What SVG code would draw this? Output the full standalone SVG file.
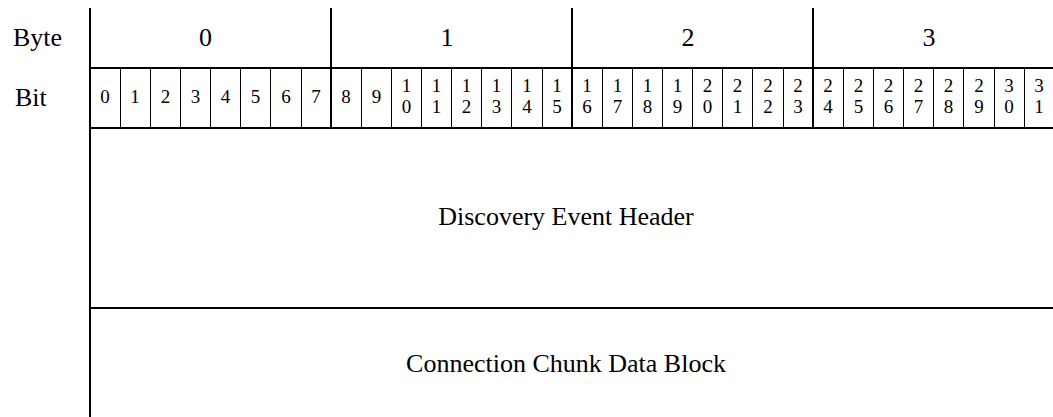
<svg xmlns="http://www.w3.org/2000/svg" width="1053" height="417" viewBox="0 0 1053 417">
<style>
.thick{stroke:#000;stroke-width:2;fill:none}
.thin{stroke:#000;stroke-width:1;fill:none}
.t{font-family:'Liberation Serif','Times New Roman',serif;fill:#000}
.lbl{font-size:26px}
.big{font-size:26px;text-anchor:middle}
.bit{font-size:19px;text-anchor:middle}
</style>
<rect width="1053" height="417" fill="#fff"/>
<g id="connectors">
<line class="thick" x1="90" y1="8" x2="90" y2="417"/>
<line class="thick" x1="331" y1="8" x2="331" y2="128"/>
<line class="thick" x1="572" y1="8" x2="572" y2="128"/>
<line class="thick" x1="813" y1="8" x2="813" y2="128"/>
<line class="thick" x1="90" y1="68" x2="1053" y2="68"/>
<line class="thick" x1="90" y1="128" x2="1053" y2="128"/>
<line class="thick" x1="90" y1="308" x2="1053" y2="308"/>
<g class="thin">
<line x1="120.5" y1="68" x2="120.5" y2="128"/>
<line x1="150.5" y1="68" x2="150.5" y2="128"/>
<line x1="180.5" y1="68" x2="180.5" y2="128"/>
<line x1="210.5" y1="68" x2="210.5" y2="128"/>
<line x1="240.5" y1="68" x2="240.5" y2="128"/>
<line x1="270.5" y1="68" x2="270.5" y2="128"/>
<line x1="301.5" y1="68" x2="301.5" y2="128"/>
<line x1="361.5" y1="68" x2="361.5" y2="128"/>
<line x1="391.5" y1="68" x2="391.5" y2="128"/>
<line x1="421.5" y1="68" x2="421.5" y2="128"/>
<line x1="451.5" y1="68" x2="451.5" y2="128"/>
<line x1="481.5" y1="68" x2="481.5" y2="128"/>
<line x1="511.5" y1="68" x2="511.5" y2="128"/>
<line x1="542.5" y1="68" x2="542.5" y2="128"/>
<line x1="602.5" y1="68" x2="602.5" y2="128"/>
<line x1="632.5" y1="68" x2="632.5" y2="128"/>
<line x1="662.5" y1="68" x2="662.5" y2="128"/>
<line x1="692.5" y1="68" x2="692.5" y2="128"/>
<line x1="722.5" y1="68" x2="722.5" y2="128"/>
<line x1="752.5" y1="68" x2="752.5" y2="128"/>
<line x1="783.5" y1="68" x2="783.5" y2="128"/>
<line x1="843.5" y1="68" x2="843.5" y2="128"/>
<line x1="873.5" y1="68" x2="873.5" y2="128"/>
<line x1="903.5" y1="68" x2="903.5" y2="128"/>
<line x1="933.5" y1="68" x2="933.5" y2="128"/>
<line x1="963.5" y1="68" x2="963.5" y2="128"/>
<line x1="994.5" y1="68" x2="994.5" y2="128"/>
<line x1="1024.5" y1="68" x2="1024.5" y2="128"/>
</g>
</g>
<g id="labels">
<text class="t lbl" x="13" y="46">Byte</text>
<text class="t lbl" x="15" y="106">Bit</text>
</g>
<g id="bytes">
<text class="t big" x="205.5" y="46">0</text>
<text class="t big" x="447" y="46">1</text>
<text class="t big" x="688" y="46">2</text>
<text class="t big" x="929" y="46">3</text>
</g>
<g id="bits">
<text class="t bit" x="105" y="103">0</text>
<text class="t bit" x="135" y="103">1</text>
<text class="t bit" x="165.5" y="103">2</text>
<text class="t bit" x="195.5" y="103">3</text>
<text class="t bit" x="225.5" y="103">4</text>
<text class="t bit" x="255.5" y="103">5</text>
<text class="t bit" x="286" y="103">6</text>
<text class="t bit" x="316" y="103">7</text>
<text class="t bit" x="346" y="103">8</text>
<text class="t bit" x="376.5" y="103">9</text>
<text class="t bit" x="406.5"><tspan x="406.5" y="92">1</tspan><tspan x="406.5" y="113">0</tspan></text>
<text class="t bit" x="436.5"><tspan x="436.5" y="92">1</tspan><tspan x="436.5" y="113">1</tspan></text>
<text class="t bit" x="466.5"><tspan x="466.5" y="92">1</tspan><tspan x="466.5" y="113">2</tspan></text>
<text class="t bit" x="496.5"><tspan x="496.5" y="92">1</tspan><tspan x="496.5" y="113">3</tspan></text>
<text class="t bit" x="527"><tspan x="527" y="92">1</tspan><tspan x="527" y="113">4</tspan></text>
<text class="t bit" x="557"><tspan x="557" y="92">1</tspan><tspan x="557" y="113">5</tspan></text>
<text class="t bit" x="587"><tspan x="587" y="92">1</tspan><tspan x="587" y="113">6</tspan></text>
<text class="t bit" x="617.5"><tspan x="617.5" y="92">1</tspan><tspan x="617.5" y="113">7</tspan></text>
<text class="t bit" x="647.5"><tspan x="647.5" y="92">1</tspan><tspan x="647.5" y="113">8</tspan></text>
<text class="t bit" x="677.5"><tspan x="677.5" y="92">1</tspan><tspan x="677.5" y="113">9</tspan></text>
<text class="t bit" x="707.5"><tspan x="707.5" y="92">2</tspan><tspan x="707.5" y="113">0</tspan></text>
<text class="t bit" x="737.5"><tspan x="737.5" y="92">2</tspan><tspan x="737.5" y="113">1</tspan></text>
<text class="t bit" x="768"><tspan x="768" y="92">2</tspan><tspan x="768" y="113">2</tspan></text>
<text class="t bit" x="798"><tspan x="798" y="92">2</tspan><tspan x="798" y="113">3</tspan></text>
<text class="t bit" x="828"><tspan x="828" y="92">2</tspan><tspan x="828" y="113">4</tspan></text>
<text class="t bit" x="858.5"><tspan x="858.5" y="92">2</tspan><tspan x="858.5" y="113">5</tspan></text>
<text class="t bit" x="888.5"><tspan x="888.5" y="92">2</tspan><tspan x="888.5" y="113">6</tspan></text>
<text class="t bit" x="918.5"><tspan x="918.5" y="92">2</tspan><tspan x="918.5" y="113">7</tspan></text>
<text class="t bit" x="948.5"><tspan x="948.5" y="92">2</tspan><tspan x="948.5" y="113">8</tspan></text>
<text class="t bit" x="979"><tspan x="979" y="92">2</tspan><tspan x="979" y="113">9</tspan></text>
<text class="t bit" x="1009"><tspan x="1009" y="92">3</tspan><tspan x="1009" y="113">0</tspan></text>
<text class="t bit" x="1039"><tspan x="1039" y="92">3</tspan><tspan x="1039" y="113">1</tspan></text>
</g>
<g id="discovery-event-header">
<text class="t big" x="566" y="225">Discovery Event Header</text>
</g>
<g id="connection-chunk-data-block">
<text class="t big" x="566" y="372">Connection Chunk Data Block</text>
</g>
</svg>
